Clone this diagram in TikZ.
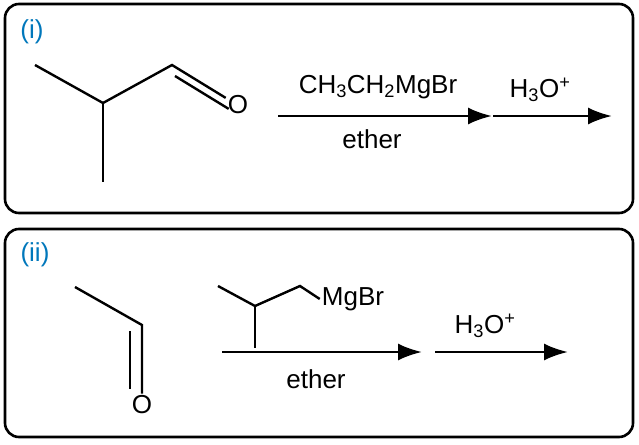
\documentclass[tikz,border=0pt]{standalone}
\usepackage{fontspec}
\setmainfont{Liberation Sans}
\usetikzlibrary{arrows.meta,calc}
\definecolor{labelblue}{RGB}{0,119,187}
\begin{document}
\begin{tikzpicture}[x=1pt,y=-1pt,
   font=\fontsize{26}{30}\selectfont,
   panel/.style={draw,line width=2.6pt,rounded corners=14pt},
   bond/.style={line width=2.4pt},
   rxn/.style={-{Latex[length=24pt,width=17pt]},line width=2.6pt},
   tag/.style={text=labelblue,inner sep=0pt},
   every node/.style={inner sep=2pt}]
\useasboundingbox (0,0) rectangle (639,444);
% panel (i)
\draw[panel] (5,4) rectangle (633,213);
\node[tag] (tagA) at (32,32) {(i)};
\coordinate (a1) at (35,65);
\coordinate (a2) at (103,103);
\coordinate (a3) at (103,182);
\coordinate (a4) at (172,65);
\node (oA) at (238,105) {O};
\draw[bond] (a1) -- (a2) -- (a4) -- (oA.150);
\draw[bond] (a2) -- (a3);
\draw[bond] ($(a4)+(3,11)$) -- ($(oA.150)+(3,11)$);
\coordinate (arA1) at (278,116);
\coordinate (arA2) at (492,116);
\coordinate (arA3) at (493,116);
\coordinate (arA4) at (612,116);
\draw[rxn] (arA1) -- (arA2);
\draw[rxn] (arA3) -- (arA4);
\node (grA) at (378,87) {CH\textsubscript{3}CH\textsubscript{2}MgBr};
\node (etA) at (372,139) {ether};
\node (hA) at (540,90) {H\textsubscript{3}O\textsuperscript{+}};
% panel (ii)
\draw[panel] (5,229) rectangle (633,437);
\node[tag] (tagB) at (35,255) {(ii)};
\coordinate (b1) at (75,287);
\coordinate (b2) at (142,325);
\node (oB) at (142,405) {O};
\draw[bond] (b1) -- (b2) -- (oB.north);
\draw[bond] (130,331) -- (130,389);
\coordinate (g1) at (218,286);
\coordinate (g2) at (255,306);
\coordinate (g3) at (255,348);
\coordinate (g4) at (300,286);
\node (mg) at (353,299) {MgBr};
\draw[bond] (g1) -- (g2) -- (g4) -- (mg.west);
\draw[bond] (g2) -- (g3);
\coordinate (arB1) at (222,352);
\coordinate (arB2) at (422,352);
\coordinate (arB3) at (435,352);
\coordinate (arB4) at (568,352);
\draw[rxn] (arB1) -- (arB2);
\draw[rxn] (arB3) -- (arB4);
\node (etB) at (316,379) {ether};
\node (hB) at (485,326) {H\textsubscript{3}O\textsuperscript{+}};
\end{tikzpicture}
\end{document}
